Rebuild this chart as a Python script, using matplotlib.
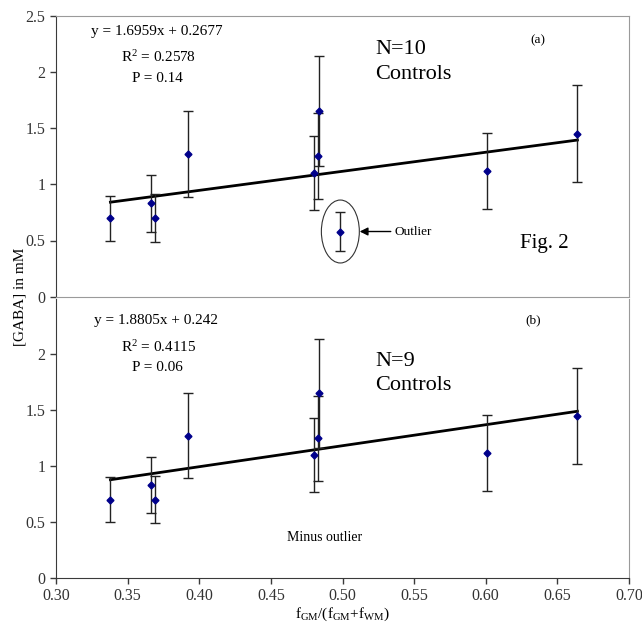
import matplotlib
matplotlib.use("Agg")
import matplotlib.pyplot as plt
from matplotlib.patches import Ellipse

plt.rcParams["font.family"] = ["Liberation Serif", "DejaVu Serif"]
plt.rcParams["mathtext.fontset"] = "custom"
plt.rcParams["mathtext.rm"] = "Liberation Serif"
plt.rcParams["mathtext.it"] = "Liberation Serif:italic"

# data (same nine controls in both panels)
frac_gm = [0.338, 0.366, 0.369, 0.392, 0.480, 0.4827, 0.4836, 0.601, 0.664]
gaba = [0.70, 0.83, 0.70, 1.27, 1.10, 1.25, 1.65, 1.12, 1.45]
gaba_err = [0.20, 0.25, 0.21, 0.38, 0.33, 0.38, 0.49, 0.34, 0.43]

outlier_x = 0.4985
outlier_y = 0.58
outlier_err = 0.17

# fits as printed on the chart
fit_top = (1.6959, 0.2677)
fit_bottom = (1.8805, 0.242)
fit_range = (0.338, 0.664)

x_ticks = [0.30, 0.35, 0.40, 0.45, 0.50, 0.55, 0.60, 0.65, 0.70]
y_ticks = [0, 0.5, 1, 1.5, 2, 2.5]
y_tick_labels = ["0", "0.5", "1", "1.5", "2", "2.5"]

DARK = "#3a3a3a"
LIGHT = "#9a9a9a"
MARK = "#00008b"

fig = plt.figure(figsize=(6.42, 6.26), dpi=100)
ax_top = fig.add_axes([56 / 642, 1 - 296.7 / 626, 573 / 642, 281 / 626])
ax_bot = fig.add_axes([56 / 642, 1 - 577.7 / 626, 573 / 642, 279.1 / 626])


def draw_panel(ax, fit, extra=None):
    xs, ys, es = list(frac_gm), list(gaba), list(gaba_err)
    if extra is not None:
        xs.append(extra[0])
        ys.append(extra[1])
        es.append(extra[2])
    ax.errorbar(xs, ys, yerr=es, fmt="D", color=MARK, markersize=3.5,
                ecolor="#222222", elinewidth=1.0, capsize=3.5, capthick=1.0,
                zorder=3)
    slope, icpt = fit
    lx = list(fit_range)
    ax.plot(lx, [slope * v + icpt for v in lx], color="black", lw=2, zorder=2)
    ax.set_xlim(0.30, 0.70)
    ax.set_ylim(0, 2.5)
    ax.set_xticks(x_ticks)
    ax.set_yticks(y_ticks)
    ax.set_yticklabels(y_tick_labels)
    ax.tick_params(direction="out", length=4, width=1, colors=DARK,
                   labelsize=11.5, labelcolor="#333333")
    ax.spines["left"].set_color(DARK)
    ax.spines["right"].set_color(LIGHT)
    ax.spines["top"].set_color(LIGHT)
    ax.spines["bottom"].set_color(LIGHT)


draw_panel(ax_top, fit_top, extra=(outlier_x, outlier_y, outlier_err))
ax_top.tick_params(axis="x", bottom=False, labelbottom=False)
ax_top.add_patch(Ellipse((outlier_x, outlier_y), 0.0265, 0.56, fill=False,
                         edgecolor="#333333", lw=0.8))
ax_top.annotate("Outlier", xy=(outlier_x + 0.0135, outlier_y),
                xytext=(0.5366, outlier_y), va="center", ha="left",
                fontsize=9.5,
                arrowprops=dict(arrowstyle="-|>", color="black", lw=1,
                                mutation_scale=12, shrinkA=1, shrinkB=0))

t = ax_top.transAxes
ax_top.text(0.176, 0.942, "y = 1.6959x + 0.2677", transform=t, ha="center",
            va="center", fontsize=11)
ax_top.text(0.179, 0.853, "R$^2$ = 0.2578", transform=t, ha="center",
            va="center", fontsize=11)
ax_top.text(0.177, 0.777, "P = 0.14", transform=t, ha="center", va="center",
            fontsize=11)
ax_top.text(0.557, 0.881, "N=10", transform=t, ha="left", va="center",
            fontsize=16)
ax_top.text(0.557, 0.792, "Controls", transform=t, ha="left", va="center",
            fontsize=16)
ax_top.text(0.841, 0.914, "(a)", transform=t, ha="center", va="center",
            fontsize=9.5)
ax_top.text(0.81, 0.191, "Fig. 2", transform=t, ha="left", va="center",
            fontsize=15)

draw_panel(ax_bot, fit_bottom)
ax_bot.spines["top"].set_visible(False)
ax_bot.spines["bottom"].set_color(DARK)
ax_bot.set_yticks(y_ticks[:-1])
ax_bot.set_yticklabels(y_tick_labels[:-1])
ax_bot.set_xticklabels([f"{v:.2f}" for v in x_ticks])
ax_bot.set_xlabel(r"f$_{\rm GM}$/(f$_{\rm GM}$+f$_{\rm WM}$)", fontsize=11,
                  labelpad=1)

b = ax_bot.transAxes
ax_bot.text(0.175, 0.921, "y = 1.8805x + 0.242", transform=b, ha="center",
            va="center", fontsize=11)
ax_bot.text(0.179, 0.828, "R$^2$ = 0.4115", transform=b, ha="center",
            va="center", fontsize=11)
ax_bot.text(0.177, 0.754, "P = 0.06", transform=b, ha="center", va="center",
            fontsize=11)
ax_bot.text(0.557, 0.774, "N=9", transform=b, ha="left", va="center",
            fontsize=16)
ax_bot.text(0.557, 0.687, "Controls", transform=b, ha="left", va="center",
            fontsize=16)
ax_bot.text(0.832, 0.923, "(b)", transform=b, ha="center", va="center",
            fontsize=9.5)
ax_bot.text(0.469, 0.145, "Minus outlier", transform=b, ha="center",
            va="center", fontsize=10)

fig.text(20 / 642, 1 - 297 / 626, "[GABA] in mM", rotation=90, ha="center",
         va="center", fontsize=11)

fig.savefig("out.png", dpi=100)
